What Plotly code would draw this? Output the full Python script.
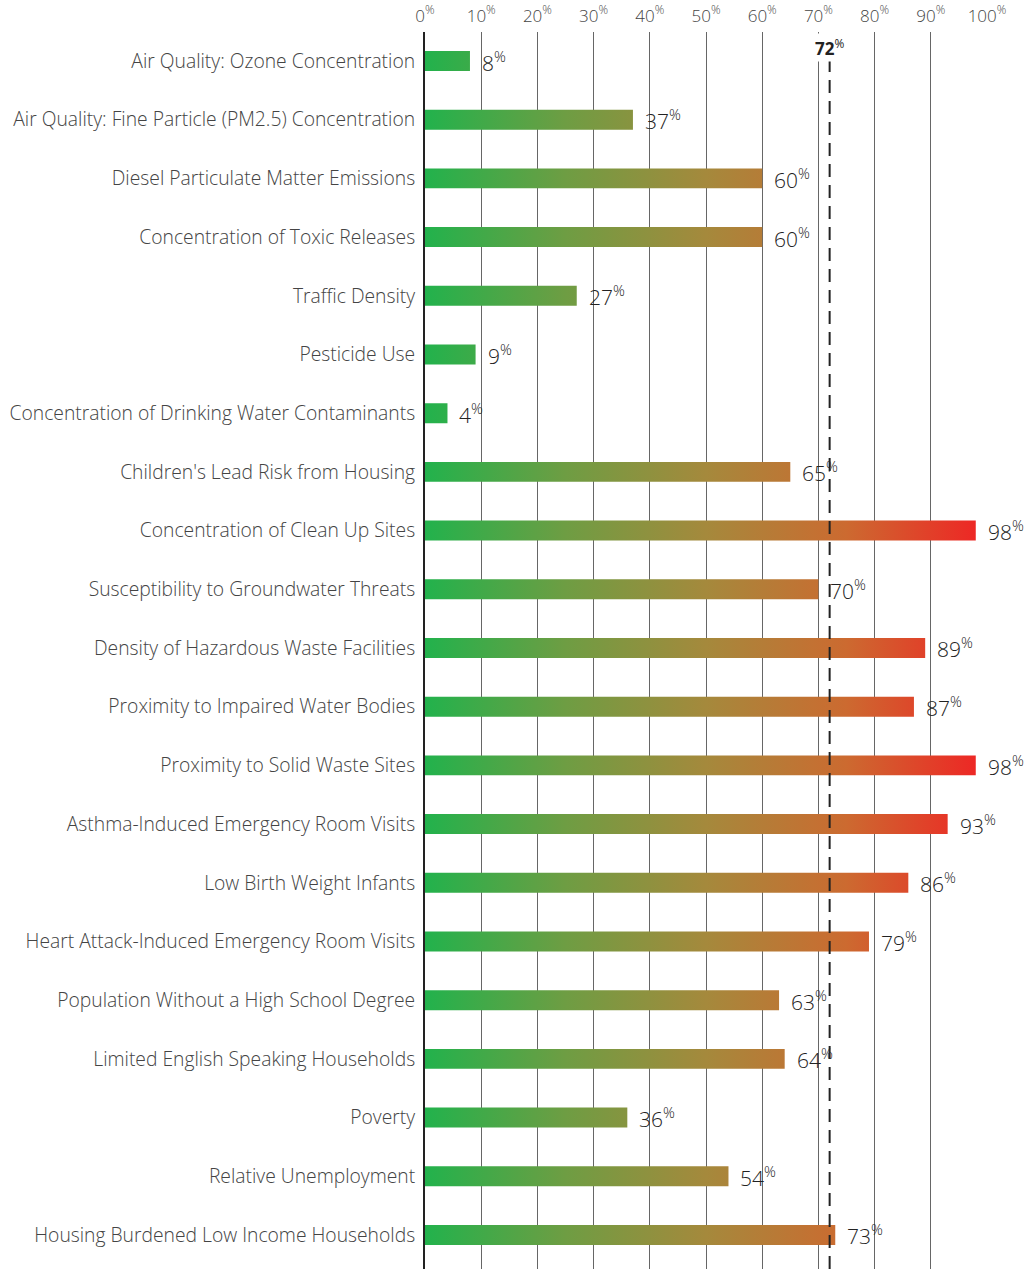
import plotly.graph_objects as go

categories = [
    "Air Quality: Ozone Concentration",
    "Air Quality: Fine Particle (PM2.5) Concentration",
    "Diesel Particulate Matter Emissions",
    "Concentration of Toxic Releases",
    "Traffic Density",
    "Pesticide Use",
    "Concentration of Drinking Water Contaminants",
    "Children's Lead Risk from Housing",
    "Concentration of Clean Up Sites",
    "Susceptibility to Groundwater Threats",
    "Density of Hazardous Waste Facilities",
    "Proximity to Impaired Water Bodies",
    "Proximity to Solid Waste Sites",
    "Asthma-Induced Emergency Room Visits",
    "Low Birth Weight Infants",
    "Heart Attack-Induced Emergency Room Visits",
    "Population Without a High School Degree",
    "Limited English Speaking Households",
    "Poverty",
    "Relative Unemployment",
    "Housing Burdened Low Income Households",
]
values = [8, 37, 60, 60, 27, 9, 4, 65, 98, 70, 89, 87, 98, 93, 86, 79, 63, 64, 36, 54, 73]
overall = 72
tick_values = [0, 10, 20, 30, 40, 50, 60, 70, 80, 90, 100]
tick_labels = [f"{t}<sup>%</sup>" for t in tick_values]

FONT = "Open Sans, Segoe UI, sans-serif"
half = 0.17
n = len(categories)

xs, ys = [], []
for i, v in enumerate(values):
    xs += [0, v, v, 0, 0, None]
    ys += [i - half, i - half, i + half, i + half, i - half, None]

fig = go.Figure()
fig.add_trace(go.Scatter(
    x=xs, y=ys, mode="lines", fill="toself",
    line=dict(width=0, color="rgba(0,0,0,0)"),
    fillgradient=dict(type="horizontal", start=0, stop=100,
                      colorscale=[[0, "#22b24c"], [0.25, "#6e9d43"], [0.5, "#a5893c"],
                                  [0.75, "#cc6a30"], [1, "#f02224"]]),
    hoverinfo="skip", showlegend=False,
))

# dashed reference line
fig.add_shape(type="line", x0=overall, x1=overall, y0=0, y1=1, yref="paper",
              line=dict(color="#222", width=2, dash="13px,8px"))
fig.add_annotation(x=overall, y=0, yref="y", yshift=14, text=f"<b>{overall}</b><sup>%</sup>",
                   showarrow=False, font=dict(family=FONT, size=17, color="#222"),
                   xanchor="center", yanchor="middle", bgcolor="white")

for i, v in enumerate(values):
    fig.add_annotation(x=v, y=i, text=f"{v}<sup>%</sup>", showarrow=False,
                       xanchor="left", yanchor="middle", xshift=10,
                       font=dict(family=FONT, size=21, color="#222", weight=300))

fig.update_xaxes(range=[0, 100], side="top", tickvals=tick_values, ticktext=tick_labels,
                 showgrid=True, gridcolor="#666", gridwidth=1, zeroline=False,
                 ticks="", ticklabelstandoff=6,
                 tickfont=dict(family=FONT, size=17, color="#444", weight=300),
                 showline=False, fixedrange=True, automargin=False)
fig.update_yaxes(range=[n - 1 + 0.58, -0.494], tickvals=list(range(n)), ticktext=categories,
                 showgrid=False, zeroline=False, ticks="", ticklabelstandoff=4,
                 tickfont=dict(family=FONT, size=19.3, color="#444", weight=300),
                 showline=True, linecolor="#222", linewidth=2, fixedrange=True,
                 automargin=False)

fig.update_layout(width=1026, height=1269, margin=dict(l=425, r=39, t=32, b=0),
                  plot_bgcolor="white", paper_bgcolor="white", font=dict(family=FONT))

# remove the page's default body margin so the figure sits at the window's corner
fig.write_html("out.html", config={"displayModeBar": False},
               post_script="document.body.style.margin='0';")
